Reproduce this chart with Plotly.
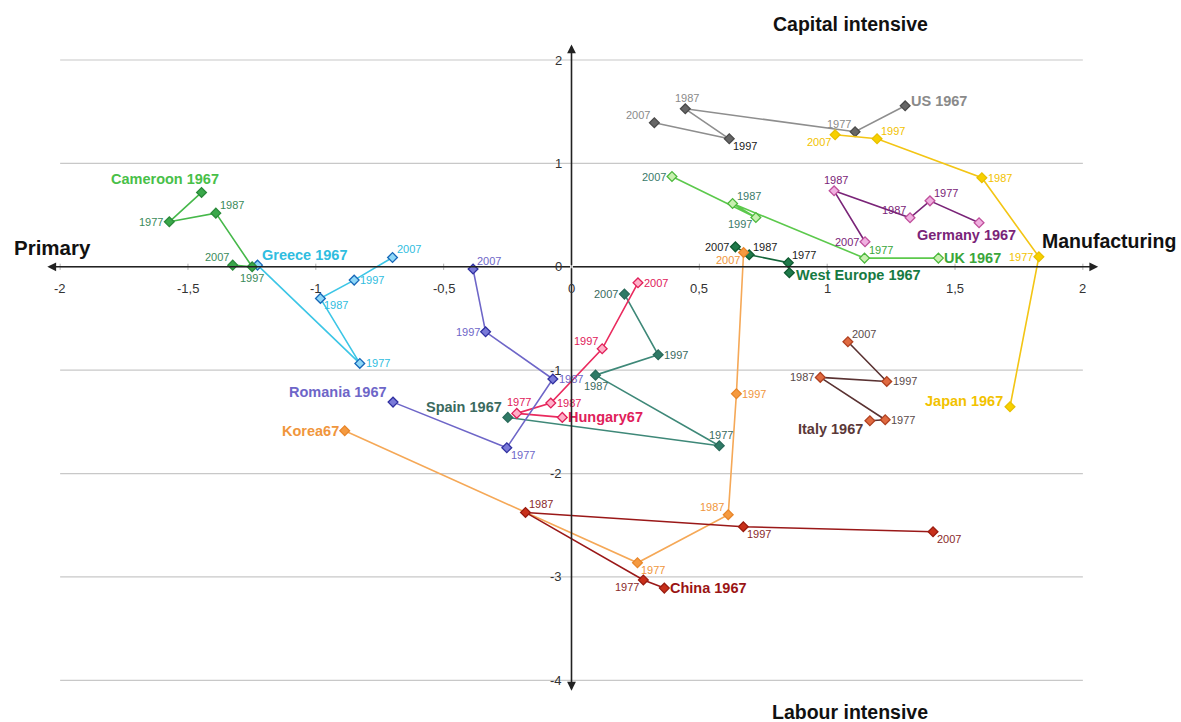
import plotly.graph_objects as go

# Trajectories of countries in the specialisation space, one point per decade
years = ["1967", "1977", "1987", "1997", "2007"]

us_x = [1.305, 1.109, 0.445, 0.617, 0.324]
us_y = [1.557, 1.306, 1.528, 1.238, 1.393]

japan_x = [1.715, 1.828, 1.605, 1.195, 1.031]
japan_y = [-1.354, 0.097, 0.861, 1.238, 1.277]

germany_x = [1.594, 1.402, 1.324, 1.027, 1.148]
germany_y = [0.426, 0.638, 0.474, 0.735, 0.242]

uk_x = [1.435, 1.146, 0.630, 0.721, 0.393]
uk_y = [0.084, 0.084, 0.612, 0.477, 0.873]

weu_x = [0.852, 0.848, 0.695, 0.641]
weu_y = [-0.058, 0.039, 0.116, 0.193]

korea_x = [-0.887, 0.258, 0.613, 0.645, 0.673]
korea_y = [-1.586, -2.863, -2.398, -1.228, 0.138]

china_x = [0.363, 0.281, -0.180, 0.672, 1.414]
china_y = [-3.108, -3.030, -2.376, -2.514, -2.563]

italy_x = [1.167, 1.227, 0.973, 1.233, 1.081]
italy_y = [-1.489, -1.480, -1.070, -1.109, -0.725]

spain_x = [-0.249, 0.578, 0.094, 0.339, 0.207]
spain_y = [-1.457, -1.731, -1.048, -0.851, -0.264]

hungary_x = [-0.036, -0.214, -0.081, 0.120, 0.260]
hungary_y = [-1.457, -1.418, -1.318, -0.793, -0.155]

romania_x = [-0.698, -0.253, -0.073, -0.336, -0.385]
romania_y = [-1.309, -1.750, -1.086, -0.629, -0.022]

greece_x = [-1.228, -0.828, -0.982, -0.850, -0.700]
greece_y = [0.016, -0.935, -0.306, -0.129, 0.090]

cameroon_x = [-1.447, -1.573, -1.391, -1.249, -1.325]
cameroon_y = [0.719, 0.435, 0.519, 0.000, 0.016]

# Point labels (first point carries the country name)
us_lab = ["US 1967", "1977", "1987", "1997", "2007"]
japan_lab = ["Japan 1967", "1977", "1987", "1997", "2007"]
germany_lab = ["Germany 1967", "1977", "1987", "1987", "2007"]
uk_lab = ["UK 1967", "1977", "1987", "1997", "2007"]
weu_lab = ["West Europe 1967", "1977", "1987", "2007"]
korea_lab = ["Korea67", "1977", "1987", "1997", "2007"]
china_lab = ["China 1967", "1977", "1987", "1997", "2007"]
italy_lab = ["Italy 1967", "1977", "1987", "1997", "2007"]
spain_lab = ["Spain 1967", "1977", "1987", "1997", "2007"]
hungary_lab = ["Hungary67", "1977", "1987", "1997", "2007"]
romania_lab = ["Romania 1967", "1977", "1987", "1997", "2007"]
greece_lab = ["Greece 1967", "1977", "1987", "1997", "2007"]
cameroon_lab = ["Cameroon 1967", "1977", "1987", "1997", "2007"]

x_ticks = [-2, -1.5, -1, -0.5, 0, 0.5, 1, 1.5, 2]
x_tick_text = ["-2", "-1,5", "-1", "-0,5", "0", "0,5", "1", "1,5", "2"]
y_ticks = [2, 1, 0, -1, -2, -3, -4]
y_tick_text = ["2", "1", "0", "-1", "-2", "-3", "-4"]

# Styles: line colour, marker fill, marker outline, label colour, label placements
series = [
    (us_x, us_y, us_lab, "#8e8e8e", "#666666", "#4a4a4a", "#8a8a8a",
     ["ru", "tl", "t", "br", "tl"]),
    (japan_x, japan_y, japan_lab, "#f3c514", "#f7d000", "#e8c000", "#f2c200",
     ["lu", "l", "r", "tr", "bl"]),
    (germany_x, germany_y, germany_lab, "#7a2478", "#f0b0e0", "#c0509c", "#7a2478",
     ["bc", "tr", "tl", "t", "l"]),
    (uk_x, uk_y, uk_lab, "#5cc94c", "#c8f0b0", "#4cb83c", "#3aa63a",
     ["r", "tr", "tr", "bl", "l"]),
    (weu_x, weu_y, weu_lab, "#14653a", "#1f7a4a", "#0e5a30", "#167a42",
     ["rd", "tr", "tr", "l"]),
    (korea_x, korea_y, korea_lab, "#f5a857", "#f59a40", "#e8862a", "#f0963c",
     ["l", "br", "tl", "r", "bl"]),
    (china_x, china_y, china_lab, "#9a1818", "#c8301a", "#9a1c10", "#9a1414",
     ["r", "bl", "tr", "br", "br"]),
    (italy_x, italy_y, italy_lab, "#5a3232", "#e06a40", "#b04020", "#5a3838",
     ["lb", "r", "l", "r", "tr"]),
    (spain_x, spain_y, spain_lab, "#3e8878", "#2f7a66", "#2a6a5a", "#3a6a5e",
     ["lt", "t", "b", "r", "l"]),
    (hungary_x, hungary_y, hungary_lab, "#ea2a5e", "#ffb0c8", "#e0205a", "#e0205a",
     ["r", "t", "r", "tl", "r"]),
    (romania_x, romania_y, romania_lab, "#6e66c8", "#7a7ad8", "#3030a0", "#6e66c8",
     ["lt", "br", "r", "l", "tr"]),
    (greece_x, greece_y, greece_lab, "#3cc6e6", "#8fd8f8", "#1868b8", "#30bde0",
     ["tr", "r", "br", "r", "tr"]),
    (cameroon_x, cameroon_y, cameroon_lab, "#46b84a", "#3aa84a", "#2a8a3a", "#48c048",
     ["tlc", "l", "tr", "b", "tl"]),
]

# Year labels whose colour differs from the series colour
year_colour_override = {
    ("US", 3): "#202020",
    ("UK", 4): "#3a7a6a",
    ("UK", 3): "#3a7a6a",
    ("UK", 2): "#3a7a6a",
    ("WEU", 1): "#1a1a1a",
    ("WEU", 2): "#1a1a1a",
    ("WEU", 3): "#1a1a1a",
    ("Italy", 1): "#5a4a4a",
    ("Italy", 2): "#5a4a4a",
    ("Italy", 3): "#5a4a4a",
    ("Italy", 4): "#5a4a4a",
    ("China", 1): "#8a2a2a",
    ("China", 2): "#8a2a2a",
    ("China", 3): "#8a2a2a",
    ("China", 4): "#8a2a2a",
    ("Cameroon", 1): "#3a8a5a",
    ("Cameroon", 2): "#3a8a5a",
    ("Cameroon", 3): "#3a8a5a",
    ("Cameroon", 4): "#3a8a5a",
}
series_keys = ["US", "Japan", "Germany", "UK", "WEU", "Korea", "China", "Italy",
               "Spain", "Hungary", "Romania", "Greece", "Cameroon"]

placement = {
    "r": dict(xanchor="left", yanchor="middle", xshift=4, yshift=0),
    "ru": dict(xanchor="left", yanchor="middle", xshift=4, yshift=5),
    "rd": dict(xanchor="left", yanchor="middle", xshift=5, yshift=-2),
    "l": dict(xanchor="right", yanchor="middle", xshift=-4, yshift=0),
    "lu": dict(xanchor="right", yanchor="middle", xshift=-5, yshift=6),
    "lt": dict(xanchor="right", yanchor="bottom", xshift=-4, yshift=0),
    "lb": dict(xanchor="right", yanchor="top", xshift=-5, yshift=2),
    "t": dict(xanchor="center", yanchor="bottom", xshift=2, yshift=3),
    "b": dict(xanchor="center", yanchor="top", xshift=0, yshift=-3),
    "bc": dict(xanchor="center", yanchor="top", xshift=-13, yshift=-2),
    "tr": dict(xanchor="left", yanchor="bottom", xshift=2, yshift=0),
    "tl": dict(xanchor="right", yanchor="bottom", xshift=-2, yshift=0),
    "tlc": dict(xanchor="center", yanchor="bottom", xshift=-37, yshift=3),
    "br": dict(xanchor="left", yanchor="top", xshift=2, yshift=1),
    "bl": dict(xanchor="right", yanchor="top", xshift=-2, yshift=1),
}

FONT = "Liberation Sans, Arial, sans-serif"

fig = go.Figure()
annotations = []

for key, (sx, sy, labs, lcol, mfill, mline, tcol, pos) in zip(series_keys, series):
    fig.add_trace(go.Scatter(
        x=sx, y=sy, mode="lines+markers",
        line=dict(color=lcol, width=1.6),
        marker=dict(symbol="diamond", size=7.5, color=mfill,
                    line=dict(color=mline, width=1.3)),
        showlegend=False, hoverinfo="skip",
    ))
    for i, (px, py, txt, p) in enumerate(zip(sx, sy, labs, pos)):
        first = i == 0
        col = tcol if first else year_colour_override.get((key, i), tcol)
        annotations.append(dict(
            x=px, y=py, xref="x", yref="y", text=f"<b>{txt}</b>" if first else txt,
            showarrow=False,
            font=dict(family=FONT, size=14.5 if first else 11, color=col),
            **placement[p],
        ))

# Horizontal gridlines
shapes = []
for yv in y_ticks:
    shapes.append(dict(type="line", xref="x", yref="y", x0=-2, x1=2, y0=yv, y1=yv,
                       line=dict(color="#c8c8c8", width=1.2), layer="below"))

# Tick marks on the central axes
for xv in x_ticks:
    shapes.append(dict(type="line", xref="x", yref="y", x0=xv, x1=xv, y0=-0.03, y1=0.03,
                       line=dict(color="#b0b0b0", width=1), layer="below"))

# Central axes with arrowheads at both ends
axis_style = dict(showarrow=True, arrowhead=2, arrowsize=1.1, arrowwidth=1.6,
                  arrowcolor="#222222", text="", axref="x", ayref="y",
                  xref="x", yref="y", standoff=0, startstandoff=0)
annotations.append(dict(x=2.06, y=0, ax=0, ay=0, **axis_style))
annotations.append(dict(x=-2.05, y=0, ax=0, ay=0, **axis_style))
annotations.append(dict(x=0, y=2.15, ax=0, ay=0, **axis_style))
annotations.append(dict(x=0, y=-4.1, ax=0, ay=0, **axis_style))

# Tick labels along the central axes
for xv, tt in zip(x_ticks, x_tick_text):
    annotations.append(dict(x=xv, y=0, xref="x", yref="y", text=tt, showarrow=False,
                            xanchor="center", yanchor="top", yshift=-12,
                            font=dict(family=FONT, size=13, color="#333333")))
for yv, tt in zip(y_ticks, y_tick_text):
    annotations.append(dict(x=0, y=yv, xref="x", yref="y", text=tt, showarrow=False,
                            xanchor="right", yanchor="middle", xshift=-8,
                            font=dict(family=FONT, size=13, color="#333333")))

# Pole names
annotations += [
    dict(x=-2.0, y=0, xref="x", yref="y", text="<b>Primary</b>", showarrow=False,
         xanchor="center", yanchor="middle", xshift=-8, yshift=19,
         font=dict(family=FONT, size=20.5, color="#111111")),
    dict(x=2.05, y=0, xref="x", yref="y", text="<b>Manufacturing</b>", showarrow=False,
         xanchor="center", yanchor="middle", xshift=13, yshift=26,
         font=dict(family=FONT, size=19.5, color="#111111")),
    dict(x=850, y=24, xref="paper", yref="paper", text="<b>Capital intensive</b>",
         showarrow=False, font=dict(family=FONT, size=19.5, color="#111111")),
    dict(x=850, y=712, xref="paper", yref="paper", text="<b>Labour intensive</b>",
         showarrow=False, font=dict(family=FONT, size=19.5, color="#111111")),
]

# Convert pixel positions of the top/bottom titles into paper fractions
W, H = 1181, 722
ML, MR, MT, MB = 9, 47, 29, 21
for a in annotations:
    if a.get("xref") == "paper" and a["x"] > 1:
        a["x"] = (a["x"] - ML) / (W - ML - MR)
        a["y"] = 1 - (a["y"] - MT) / (H - MT - MB)
        a["xanchor"] = "center"
        a["yanchor"] = "middle"

fig.update_layout(
    width=W, height=H,
    margin=dict(l=ML, r=MR, t=MT, b=MB),
    paper_bgcolor="white", plot_bgcolor="white",
    xaxis=dict(range=[-2.2, 2.2], visible=False, fixedrange=True),
    yaxis=dict(range=[-4.2, 2.3], visible=False, fixedrange=True),
    shapes=shapes, annotations=annotations,
)

fig.write_html("out.html")
